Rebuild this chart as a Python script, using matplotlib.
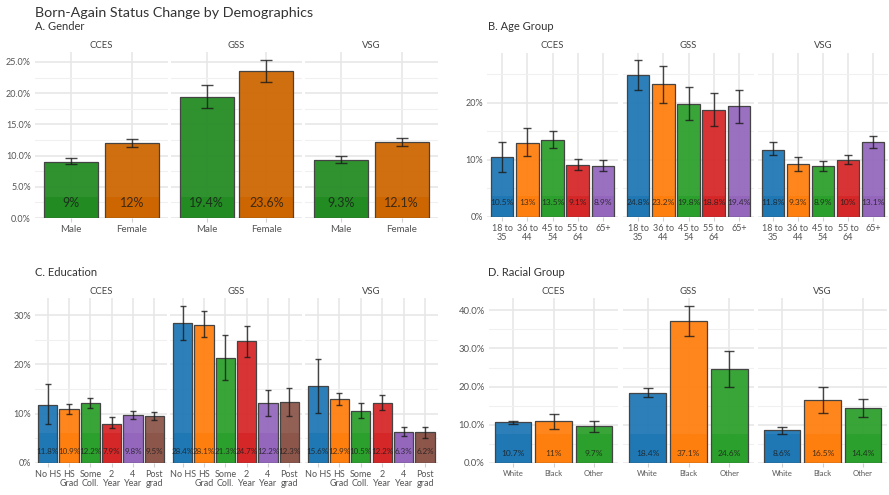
import matplotlib
matplotlib.use("Agg")
import matplotlib.pyplot as plt
from matplotlib.ticker import FuncFormatter, MultipleLocator

plt.rcParams['font.family'] = ['Lato', 'DejaVu Sans']

surveys = ["CCES", "GSS", "VSG"]

# A. Gender
gender_cats = ["Male", "Female"]
gender_vals = {"CCES": [9.0, 12.0], "GSS": [19.4, 23.6], "VSG": [9.3, 12.1]}
gender_lo = {"CCES": [8.7, 11.35], "GSS": [17.6, 21.8], "VSG": [8.8, 11.55]}
gender_hi = {"CCES": [9.65, 12.65], "GSS": [21.25, 25.3], "VSG": [9.95, 12.75]}
gender_colors = ["#228B22", "#CD6600"]

# B. Age group
age_cats = ["18 to\n35", "36 to\n44", "45 to\n54", "55 to\n64", "65+"]
age_vals = {"CCES": [10.5, 13.0, 13.5, 9.1, 8.9],
            "GSS": [24.8, 23.2, 19.8, 18.8, 19.4],
            "VSG": [11.8, 9.3, 8.9, 10.0, 13.1]}
age_lo = {"CCES": [7.8, 10.6, 12.1, 8.2, 8.0],
          "GSS": [22.3, 19.9, 16.9, 16.0, 16.5],
          "VSG": [10.8, 8.1, 8.1, 9.3, 12.0]}
age_hi = {"CCES": [13.2, 15.5, 15.0, 10.1, 9.9],
          "GSS": [27.4, 26.5, 22.8, 21.7, 22.3],
          "VSG": [13.1, 10.5, 9.8, 10.8, 14.1]}

# C. Education
edu_cats = ["No HS", "HS\nGrad", "Some\nColl.", "2\nYear", "4\nYear", "Post\ngrad"]
edu_vals = {"CCES": [11.8, 10.9, 12.2, 7.9, 9.8, 9.5],
            "GSS": [28.4, 28.1, 21.3, 24.7, 12.2, 12.3],
            "VSG": [15.6, 12.9, 10.5, 12.2, 6.3, 6.2]}
edu_lo = {"CCES": [7.9, 9.9, 11.1, 7.2, 9.0, 8.7],
          "GSS": [24.9, 25.5, 16.9, 21.6, 9.6, 9.5],
          "VSG": [10.1, 11.8, 9.1, 10.7, 5.5, 5.1]}
edu_hi = {"CCES": [16.0, 11.9, 13.1, 9.4, 10.6, 10.3],
          "GSS": [31.9, 30.8, 25.9, 27.8, 14.8, 15.2],
          "VSG": [21.2, 14.2, 12.1, 13.9, 7.3, 7.3]}

# D. Racial group
race_cats = ["White", "Black", "Other"]
race_vals = {"CCES": [10.7, 11.0, 9.7], "GSS": [18.4, 37.1, 24.6], "VSG": [8.6, 16.5, 14.4]}
race_lo = {"CCES": [10.1, 8.9, 8.2], "GSS": [17.2, 33.2, 20.0], "VSG": [7.7, 13.1, 12.1]}
race_hi = {"CCES": [11.0, 12.8, 11.0], "GSS": [19.7, 41.0, 29.2], "VSG": [9.4, 19.9, 16.7]}

tab_colors = ["#1F77B4", "#FF7F0E", "#2CA02C", "#D62728", "#9467BD", "#8C564B"]

W, H = 889, 495
fig = plt.figure(figsize=(W / 100, H / 100), dpi=100)


def px_axes(x0, y0, x1, y1):
    return fig.add_axes([x0 / W, 1 - y1 / H, (x1 - x0) / W, (y1 - y0) / H])


def draw_panel(cats, vals, lo, hi, colors, boxes, ylim, major, fmt,
               label_size, tick_size, ytick_size, band_px, label_px, cap_pt, strip_y):
    n = len(cats)
    xs = list(range(n))
    for k, (name, box) in enumerate(zip(surveys, boxes)):
        ax = px_axes(*box)
        ax_h = box[3] - box[1]
        v = vals[name]
        ax.set_xlim(-0.6, n - 0.4)
        ax.set_ylim(0, ylim)
        ax.set_axisbelow(True)
        # bars are slightly see-through; the label box at the foot is solid
        ax.bar(xs, v, width=0.9, color=colors[:n], alpha=0.94, edgecolor="none", zorder=2)
        band = band_px / ax_h * ylim
        ax.bar(xs, [min(b, band) for b in v], width=0.9, color=colors[:n],
               edgecolor="none", zorder=2.5)
        ax.bar(xs, v, width=0.9, color="none", edgecolor="#444444", lw=0.9, zorder=3)
        yerr = [[a - b for a, b in zip(v, lo[name])], [c - a for a, c in zip(v, hi[name])]]
        ax.errorbar(xs, v, yerr=yerr, fmt="none", ecolor="#1a1a1a", alpha=0.8,
                    elinewidth=1, capsize=cap_pt, capthick=1, zorder=4)
        ly = label_px / ax_h * ylim
        for x, b in zip(xs, v):
            ax.text(x, ly, f"{b:g}%", ha="center", va="center", fontsize=label_size,
                    color="#1a1a1a", alpha=0.8, zorder=5)

        ax.yaxis.set_major_locator(MultipleLocator(major))
        ax.yaxis.set_minor_locator(MultipleLocator(major / 2))
        ax.yaxis.set_major_formatter(FuncFormatter(fmt))
        ax.grid(which="major", axis="both", color="#E6E6E6", lw=1.1)
        ax.grid(which="minor", axis="y", color="#F0F0F0", lw=0.8)
        for s in ax.spines.values():
            s.set_visible(False)
        ax.set_xticks(xs, cats)
        ax.tick_params(axis="x", length=3, color="#D0D0D0", labelsize=tick_size,
                       labelcolor="#555555", pad=2)
        ax.tick_params(axis="y", which="both", length=0, labelsize=ytick_size,
                       labelcolor="#555555", pad=3)
        for t in ax.get_xticklabels():
            t.set_linespacing(0.95)
        if k > 0:
            ax.set_yticklabels([])
        fig.text((box[0] + box[2]) / 2 / W, 1 - strip_y / H, name, ha="center",
                 va="center", fontsize=6.8, color="#444444")


pct1 = lambda y, p: f"{y:.1f}%"
pct0 = lambda y, p: f"{y:.0f}%"

draw_panel(gender_cats, gender_vals, gender_lo, gender_hi, gender_colors,
           [(35, 52, 168, 218), (171, 52, 302, 218), (305, 52, 438, 218)],
           26.6, 5, pct1, 9, 7, 6.5, 21, 15, 4.5, 46)
draw_panel(age_cats, age_vals, age_lo, age_hi, tab_colors,
           [(487, 53, 618, 217), (623, 53, 754, 217), (758, 53, 888, 217)],
           28.7, 10, pct0, 6, 6.5, 6.5, 21, 14, 3, 46)
draw_panel(edu_cats, edu_vals, edu_lo, edu_hi, tab_colors,
           [(35, 298, 167, 463), (170, 298, 302, 463), (305, 298, 438, 463)],
           33.5, 10, pct0, 5.8, 6.5, 6.5, 30, 12, 2.2, 291)
draw_panel(race_cats, race_vals, race_lo, race_hi, tab_colors,
           [(489, 298, 618, 463), (623, 298, 754, 463), (758, 298, 887, 463)],
           43.2, 10, pct1, 6, 5.5, 6.8, 29, 9, 3.3, 291)

fig.text(35 / W, 1 - 13 / H, "Born-Again Status Change by Demographics", ha="left",
         va="center", fontsize=10.3, color="#333333")
fig.text(35 / W, 1 - 27 / H, "A. Gender", ha="left", va="center", fontsize=8, color="#333333")
fig.text(488 / W, 1 - 27 / H, "B. Age Group", ha="left", va="center", fontsize=8, color="#333333")
fig.text(35 / W, 1 - 273 / H, "C. Education", ha="left", va="center", fontsize=8, color="#333333")
fig.text(488 / W, 1 - 273 / H, "D. Racial Group", ha="left", va="center", fontsize=8, color="#333333")

fig.savefig("out.png", dpi=100, facecolor="white")
